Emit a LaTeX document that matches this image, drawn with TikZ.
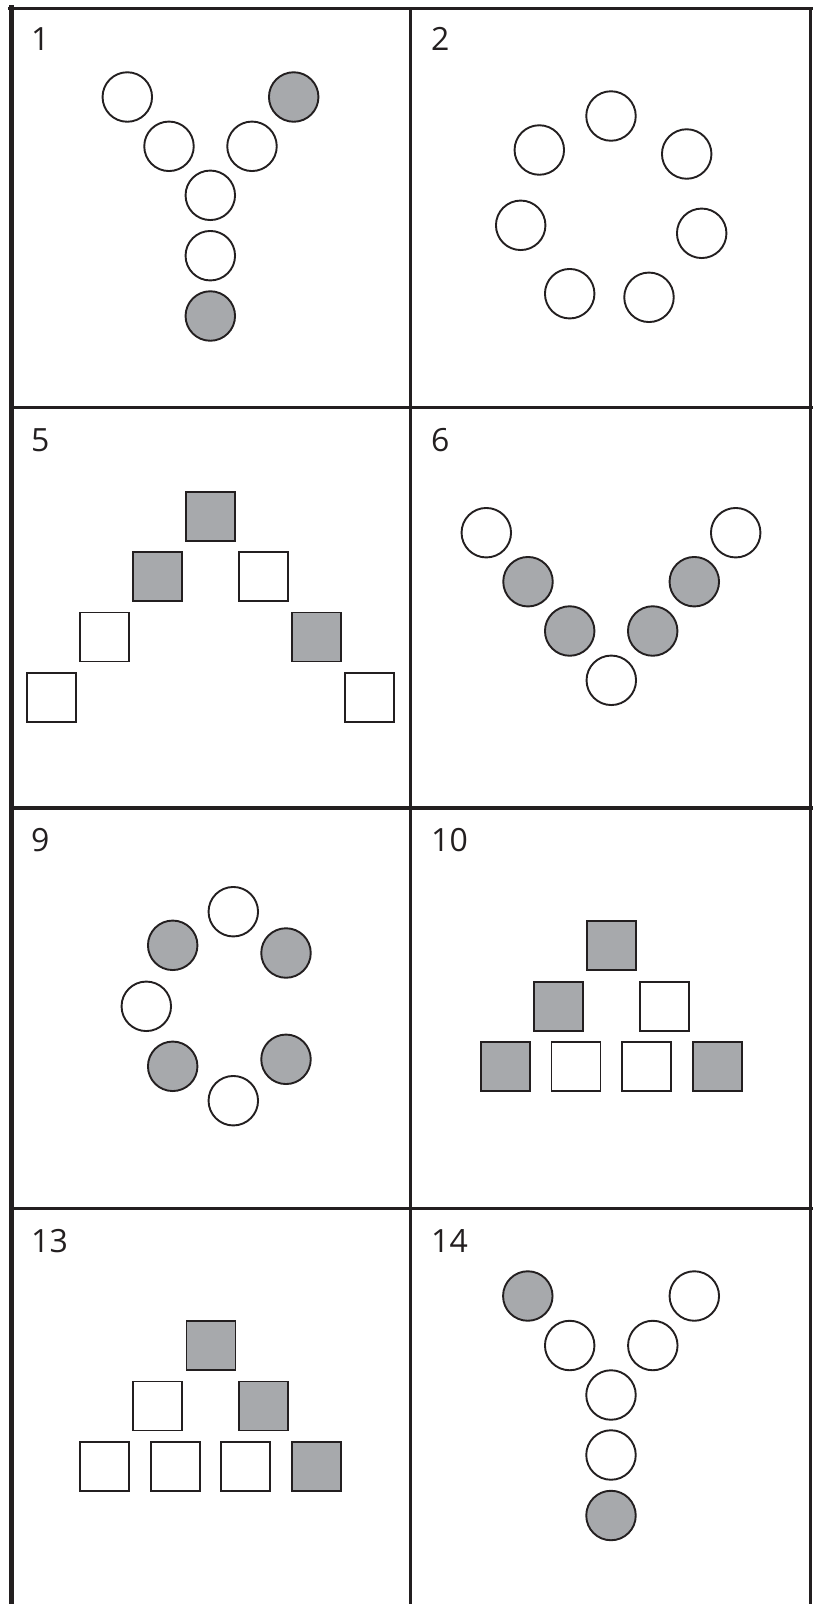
\documentclass[tikz,border=0pt]{standalone}
\usepackage{fontspec}
\setmainfont{Open Sans}
\definecolor{ink}{HTML}{231F20}
\definecolor{shade}{HTML}{A7A9AC}
\begin{document}
\begin{tikzpicture}[x=1pt,y=-1pt,
  dot/.style={circle,draw=ink,line width=1.9pt,inner sep=0pt,outer sep=0pt,minimum size=49.5pt},
  wdot/.style={dot,fill=white},
  gdot/.style={dot,fill=shade},
  sq/.style={rectangle,draw=ink,line width=1.9pt,inner sep=0pt,outer sep=0pt,minimum size=49pt},
  wsq/.style={sq,fill=white},
  gsq/.style={sq,fill=shade},
  num/.style={anchor=base west,font=\fontsize{32}{32}\selectfont,text=ink,inner sep=0pt},
  frame/.style={draw=ink,line cap=rect}]
\useasboundingbox (0,0) rectangle (812,1604);
\fill[white] (0,0) rectangle (812,1604);

% grid
\draw[frame,line width=4.5pt] (11.7,7) -- (11.7,1604);
\draw[frame,line width=3.5pt] (10,8.7) -- (811,8.7);
\draw[frame,line width=2.5pt] (410.7,8.7) -- (410.7,1604);
\draw[frame,line width=2.5pt] (810.7,8.7) -- (810.7,1604);
\draw[frame,line width=3.2pt] (11.7,407.7) -- (811,407.7);
\draw[frame,line width=3.2pt] (11.7,808) -- (811,808);
\draw[frame,line width=3.2pt] (11.7,1208.3) -- (811,1208.3);

% labels
\node[num] (l1) at (31,50) {1};
\node[num] (l2) at (431,50) {2};
\node[num] (l5) at (31,451) {5};
\node[num] (l6) at (431,451) {6};
\node[num] (l9) at (31,851) {9};
\node[num] (l10) at (431,851) {10};
\node[num] (l13) at (31,1252) {13};
\node[num] (l14) at (431,1252) {14};

% panel 1
\node[wdot] (a1) at (127.3,97) {};
\node[gdot] (a2) at (293.7,97) {};
\node[wdot] (a3) at (169,146.3) {};
\node[wdot] (a4) at (252,146.3) {};
\node[wdot] (a5) at (210.3,195.3) {};
\node[wdot] (a6) at (210.3,255.7) {};
\node[gdot] (a7) at (210.3,316) {};

% panel 2
\node[wdot] (b1) at (611,116) {};
\node[wdot] (b2) at (539.3,150) {};
\node[wdot] (b3) at (686.7,154) {};
\node[wdot] (b4) at (520.7,225.3) {};
\node[wdot] (b5) at (701.7,233.3) {};
\node[wdot] (b6) at (569.7,293.7) {};
\node[wdot] (b7) at (649,297.3) {};

% panel 5
\node[gsq] (c1) at (210.5,516.3) {};
\node[gsq] (c2) at (157.7,576.3) {};
\node[wsq] (c3) at (263.7,576.3) {};
\node[wsq] (c4) at (104.7,637) {};
\node[gsq] (c5) at (316.5,637) {};
\node[wsq] (c6) at (51.8,697.2) {};
\node[wsq] (c7) at (369.5,697.2) {};

% panel 6
\node[wdot] (d1) at (486.3,532.7) {};
\node[gdot] (d2) at (528,581.7) {};
\node[gdot] (d3) at (569.7,631) {};
\node[wdot] (d4) at (611.3,680.3) {};
\node[gdot] (d5) at (652.7,631) {};
\node[gdot] (d6) at (694.3,581.7) {};
\node[wdot] (d7) at (735.7,532.7) {};

% panel 9
\node[wdot] (e1) at (233.3,911.7) {};
\node[gdot] (e2) at (172.7,945.3) {};
\node[gdot] (e3) at (286,953) {};
\node[wdot] (e4) at (146.3,1006.3) {};
\node[gdot] (e5) at (172.7,1066.3) {};
\node[gdot] (e6) at (286,1059.3) {};
\node[wdot] (e7) at (233.3,1100.7) {};

% panel 10
\node[gsq] (f1) at (611.3,945.8) {};
\node[gsq] (f2) at (558.3,1006.3) {};
\node[wsq] (f3) at (664.3,1006.3) {};
\node[gsq] (f4) at (505.3,1066.8) {};
\node[wsq] (f5) at (576,1066.8) {};
\node[wsq] (f6) at (646.7,1066.8) {};
\node[gsq] (f7) at (717.3,1066.8) {};

% panel 13
\node[gsq] (g1) at (211,1345.5) {};
\node[wsq] (g2) at (157.5,1406) {};
\node[gsq] (g3) at (263.5,1406) {};
\node[wsq] (g4) at (104.6,1466.5) {};
\node[wsq] (g5) at (175.3,1466.5) {};
\node[wsq] (g6) at (245.7,1466.5) {};
\node[gsq] (g7) at (316.5,1466.5) {};

% panel 14
\node[gdot] (h1) at (527.8,1296) {};
\node[wdot] (h2) at (694.3,1296) {};
\node[wdot] (h3) at (569.7,1345.5) {};
\node[wdot] (h4) at (652.8,1345.5) {};
\node[wdot] (h5) at (611,1395) {};
\node[wdot] (h6) at (611,1455) {};
\node[gdot] (h7) at (611,1515.5) {};
\end{tikzpicture}
\end{document}
